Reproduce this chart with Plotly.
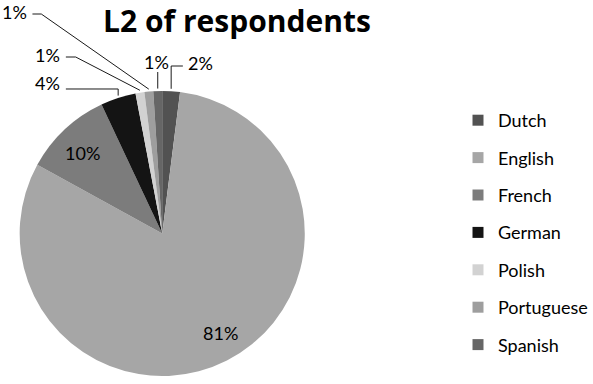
import math
import plotly.graph_objects as go

# ---- data ----
languages = ["Dutch", "English", "French", "German", "Polish", "Portuguese", "Spanish"]
shares = [2, 81, 10, 4, 1, 1, 1]
colors = ["#525252", "#a6a6a6", "#7c7c7c", "#141414", "#d2d2d2", "#9e9e9e", "#666666"]
title_text = "L2 of respondents"

# ---- layout constants (pixels) ----
W, H = 593, 384
pie_left, pie_right, pie_top, pie_bottom = 20, 310, 88, 379
cx = (pie_left + pie_right) / 2
cy = (pie_top + pie_bottom) / 2
R = min(pie_right - pie_left, pie_bottom - pie_top) / 2
FONT = "Lato, 'Open Sans', sans-serif"
TFONT = "'Open Sans', Lato, sans-serif"

def px(x, y):
    return x / W, 1 - y / H

total = sum(shares)
pcts = [round(v / total * 100) for v in shares]
mid_angles = []
cum = 0
for v in shares:
    mid_angles.append((cum + v / 2) / total * 2 * math.pi)
    cum += v

def point(angle, frac):
    return cx + R * frac * math.sin(angle), cy - R * frac * math.cos(angle)

fig = go.Figure()
fig.add_trace(go.Pie(
    labels=languages, values=shares, sort=False, direction="clockwise", rotation=0,
    marker=dict(colors=colors, line=dict(width=0)),
    textinfo="none", showlegend=False, hoverinfo="label+percent",
    domain=dict(x=[pie_left / W, pie_right / W], y=[1 - pie_bottom / H, 1 - pie_top / H]),
))

# legend entries
for lang, col in zip(languages, colors):
    fig.add_trace(go.Scatter(
        x=[None], y=[None], mode="markers", name=lang, legendgroup=lang,
        marker=dict(symbol="square", size=11, color=col),
    ))

annotations = []
shapes = []
# inside labels: (angle nudge in degrees, radius fraction)
inside = {"English": (-4, 0.80), "French": (-2, 0.79)}
# outside label styles: (kind, elbow, line end, text pos, xanchor)
outside = {
    "Dutch": ("vert", (None, 66), (186, 66), (189, 63), "left"),
    "Spanish": ("straight", None, (None, 72), (159, 62), "center"),
    "Portuguese": ("diag", (42, 14), (33, 14), (30, 12), "right"),
    "Polish": ("diag", (77, 57), (67, 57), (63, 55), "right"),
    "German": ("vert", (None, 89), (67, 89), (63, 83), "right"),
}
LABEL_SIZE = 18
for lang, pct, ang in zip(languages, pcts, mid_angles):
    label = f"{pct}%"
    if lang in inside:
        nudge, frac = inside[lang]
        x, y = point(ang + math.radians(nudge), frac)
        xp, yp = px(x, y)
        annotations.append(dict(x=xp, y=yp, xref="paper", yref="paper", text=label,
                                xanchor="center", yanchor="middle", showarrow=False,
                                font=dict(size=LABEL_SIZE, color="black", family=FONT)))
    else:
        kind, elbow, end, tpos, xa = outside[lang]
        ex, ey = point(ang, 1.0)
        pts = [(ex, ey)]
        if kind == "vert":
            pts.append((ex, elbow[1]))
            pts.append(end)
        elif kind == "diag":
            pts.append(elbow)
            pts.append(end)
        else:
            pts.append((ex, end[1]))
        path = ""
        for i, (a, b) in enumerate(pts):
            pa, pb = px(a, b)
            path += ("M" if i == 0 else " L") + f" {pa:.5f},{pb:.5f}"
        shapes.append(dict(type="path", path=path, xref="paper", yref="paper",
                           line=dict(color="#1a1a1a", width=1)))
        tx, ty = px(*tpos)
        annotations.append(dict(x=tx, y=ty, xref="paper", yref="paper", text=label,
                                xanchor=xa, yanchor="middle", showarrow=False,
                                font=dict(size=LABEL_SIZE, color="black", family=FONT)))

fig.update_layout(
    width=W, height=H,
    margin=dict(l=0, r=0, t=0, b=0),
    paper_bgcolor="white", plot_bgcolor="white",
    title=dict(text="<b>" + title_text + "</b>", x=237 / W, xanchor="center",
               y=1 - 21 / H, yanchor="middle", font=dict(size=30, color="black", family=TFONT)),
    xaxis=dict(visible=False), yaxis=dict(visible=False),
    legend=dict(x=466 / W, xanchor="left", y=1 - 102 / H, yanchor="top",
                font=dict(size=18, color="black", family=FONT),
                tracegroupgap=11, itemsizing="trace", bgcolor="rgba(0,0,0,0)"),
    annotations=annotations, shapes=shapes,
    showlegend=True,
)
fig.write_html("out.html", config={"displayModeBar": False},
               post_script="document.body.style.margin='0';document.body.style.padding='0';")
